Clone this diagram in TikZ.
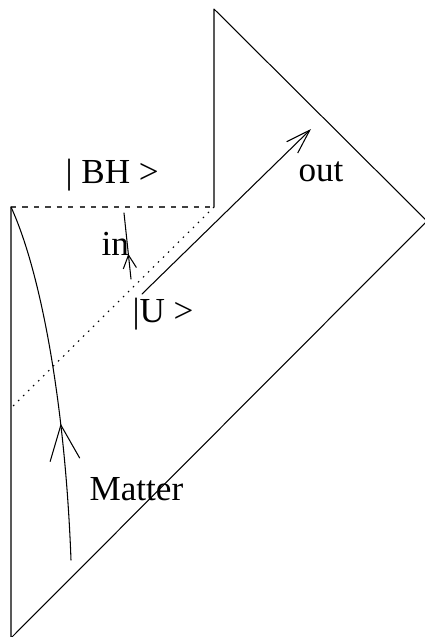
\documentclass[tikz,border=0pt]{standalone}
\usepackage{fontspec}
\setmainfont{Liberation Serif}
\usetikzlibrary{arrows.meta,decorations.markings}
\tikzset{
  txt/.style={font=\fontsize{20}{24}\selectfont, inner sep=0pt, anchor=base west},
  singular/.style={black!75, line cap=butt, dash pattern=on 3pt off 3.5pt},
  horizon/.style={line cap=butt, dash pattern=on 0.9pt off 3.1pt},
  mattertip/.style={postaction={decorate},
    decoration={markings, mark=at position 0.38 with {\arrow{Straight Barb[length=20pt,width=17pt]}}}},
  intip/.style={postaction={decorate},
    decoration={markings, mark=at position 0.38 with {\arrow{Straight Barb[length=7.5pt,width=7.5pt]}}}},
}
\begin{document}
\begin{tikzpicture}[x=0.02cm, y=-0.02cm, line width=0.6pt, line join=round, line cap=round]
  \clip (0,0) rectangle (425,637);
  % Tọa độ
  \coordinate (O) at (11,638);
  \coordinate (R) at (427,221);
  \coordinate (T) at (214,9);
  \coordinate (S) at (214,207);
  \coordinate (L) at (11,207);
  \coordinate (H) at (11,408);
  \coordinate (M) at (71,560);
  \coordinate (I0) at (131,279);
  \coordinate (I1) at (124,213);
  \coordinate (U0) at (142,294);
  \coordinate (U1) at (311,129);

  % Biên
  \draw (L)--(O)--(R)--(T)--(S);
  \draw[singular] (L)--(S);
  \draw[horizon] (S)--(H);

  % Đường đi
  \draw[mattertip] (M) .. controls (65,400) and (40,270) .. (L);
  \draw[intip] (I0)--(I1);
  \draw[-{Straight Barb[length=14pt,width=9pt]}] (U0)--(U1);

  % Nhãn
  \node[txt] (bh) at (65,183) {| BH >};
  \node[txt] (in) at (101,255) {in};
  \node[txt] (u) at (132,322) {|U >};
  \node[txt] (out) at (298,181) {out};
  \node[txt] (matter) at (89,500) {Matter};
\end{tikzpicture}
\end{document}
